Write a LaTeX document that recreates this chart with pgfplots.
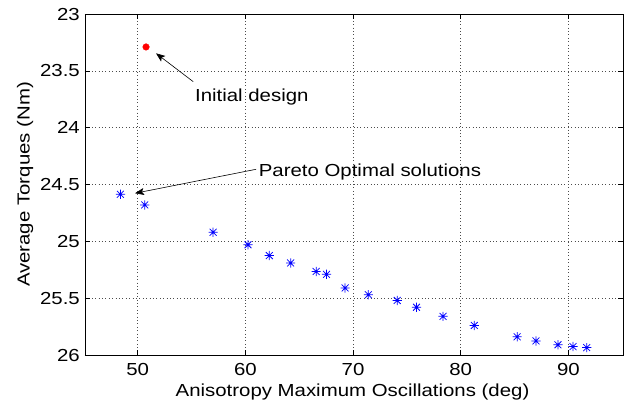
\documentclass[border=0pt]{standalone}
\usepackage{fontspec}
\setmainfont[FakeStretch=1.17]{Liberation Sans}
\usepackage{pgfplots}
\pgfplotsset{compat=1.18}
\usetikzlibrary{arrows.meta}
\pgfdeclareplotmark{matstar}{%
 \pgfpathmoveto{\pgfqpoint{-\pgfplotmarksize}{0pt}}\pgfpathlineto{\pgfqpoint{\pgfplotmarksize}{0pt}}%
 \pgfpathmoveto{\pgfqpoint{0pt}{-\pgfplotmarksize}}\pgfpathlineto{\pgfqpoint{0pt}{\pgfplotmarksize}}%
 \pgfpathmoveto{\pgfqpoint{-.75\pgfplotmarksize}{-.75\pgfplotmarksize}}\pgfpathlineto{\pgfqpoint{.75\pgfplotmarksize}{.75\pgfplotmarksize}}%
 \pgfpathmoveto{\pgfqpoint{-.75\pgfplotmarksize}{.75\pgfplotmarksize}}\pgfpathlineto{\pgfqpoint{.75\pgfplotmarksize}{-.75\pgfplotmarksize}}%
 \pgfusepathqstroke}
\newcommand\ff{\fontsize{17.5}{20}\selectfont}
\begin{document}
\ff
\begin{tikzpicture}
\begin{axis}[name=ax,
  scale only axis, width=538.3bp, height=341bp,
  xmin=45.1, xmax=95.1, ymin=23, ymax=26, y dir=reverse,
  xtick={50,60,70,80,90}, ytick={23,23.5,24,24.5,25,25.5,26},
  /pgf/number format/assume math mode=true,
  tick align=inside, major tick length=5bp,
  tick style={black, line width=0.6bp},
  axis line style={black, line width=0.6bp},
  grid=major,
  major grid style={black!70, line width=0.6bp, dash pattern=on 1bp off 2.4bp},
  xticklabel style={inner sep=0pt, yshift=-8bp, font=\ff},
  yticklabel style={inner sep=0pt, xshift=-5bp, font=\ff},
  xlabel={Anisotropy Maximum Oscillations (deg)},
  ylabel={Average Torques (Nm)},
  xlabel style={at={(axis description cs:0.497,-0.1223)}, anchor=base, inner sep=0pt, font=\ff},
  ylabel style={at={(axis description cs:-0.103,0.5)}, anchor=base, inner sep=0pt, font=\ff},
  clip=false,
]
\addplot[only marks, mark=matstar, mark size=4.6bp, blue, mark options={line width=0.75bp}] coordinates {
(48.39,24.586) (50.65,24.68) (57.0,24.92) (60.24,25.03) (62.22,25.125) (64.2,25.19)
(66.57,25.265) (67.53,25.29) (69.26,25.41) (71.42,25.47) (74.1,25.52) (75.89,25.58)
(78.36,25.66) (81.26,25.74) (85.24,25.84) (86.99,25.876) (89.03,25.91) (90.43,25.926)
(91.7,25.935)
};
\addplot[only marks, mark=*, mark size=3.3bp, red, mark options={draw=red, fill=red}] coordinates {(50.77,23.29)};
\draw[black, line width=0.6bp, -{Stealth[length=9bp, width=7bp, inset=2bp]}] (axis cs:55.15,23.595) -- (axis cs:51.7,23.346);
\draw[black, line width=0.6bp, -{Stealth[length=9bp, width=7bp, inset=2bp]}] (axis cs:61.0,24.366) -- (axis cs:49.75,24.577);
\node[anchor=base west, inner sep=0pt, font=\ff] at (axis cs:55.31,23.771) {Initial design};
\node[anchor=base west, inner sep=0pt, font=\ff] at (axis cs:61.23,24.431) {Pareto Optimal solutions};
\end{axis}
\pgfresetboundingbox
\path ([shift={(-85bp,-52bp)}]ax.south west) rectangle ([shift={(12.7bp,14bp)}]ax.north east);
\end{tikzpicture}
\end{document}
